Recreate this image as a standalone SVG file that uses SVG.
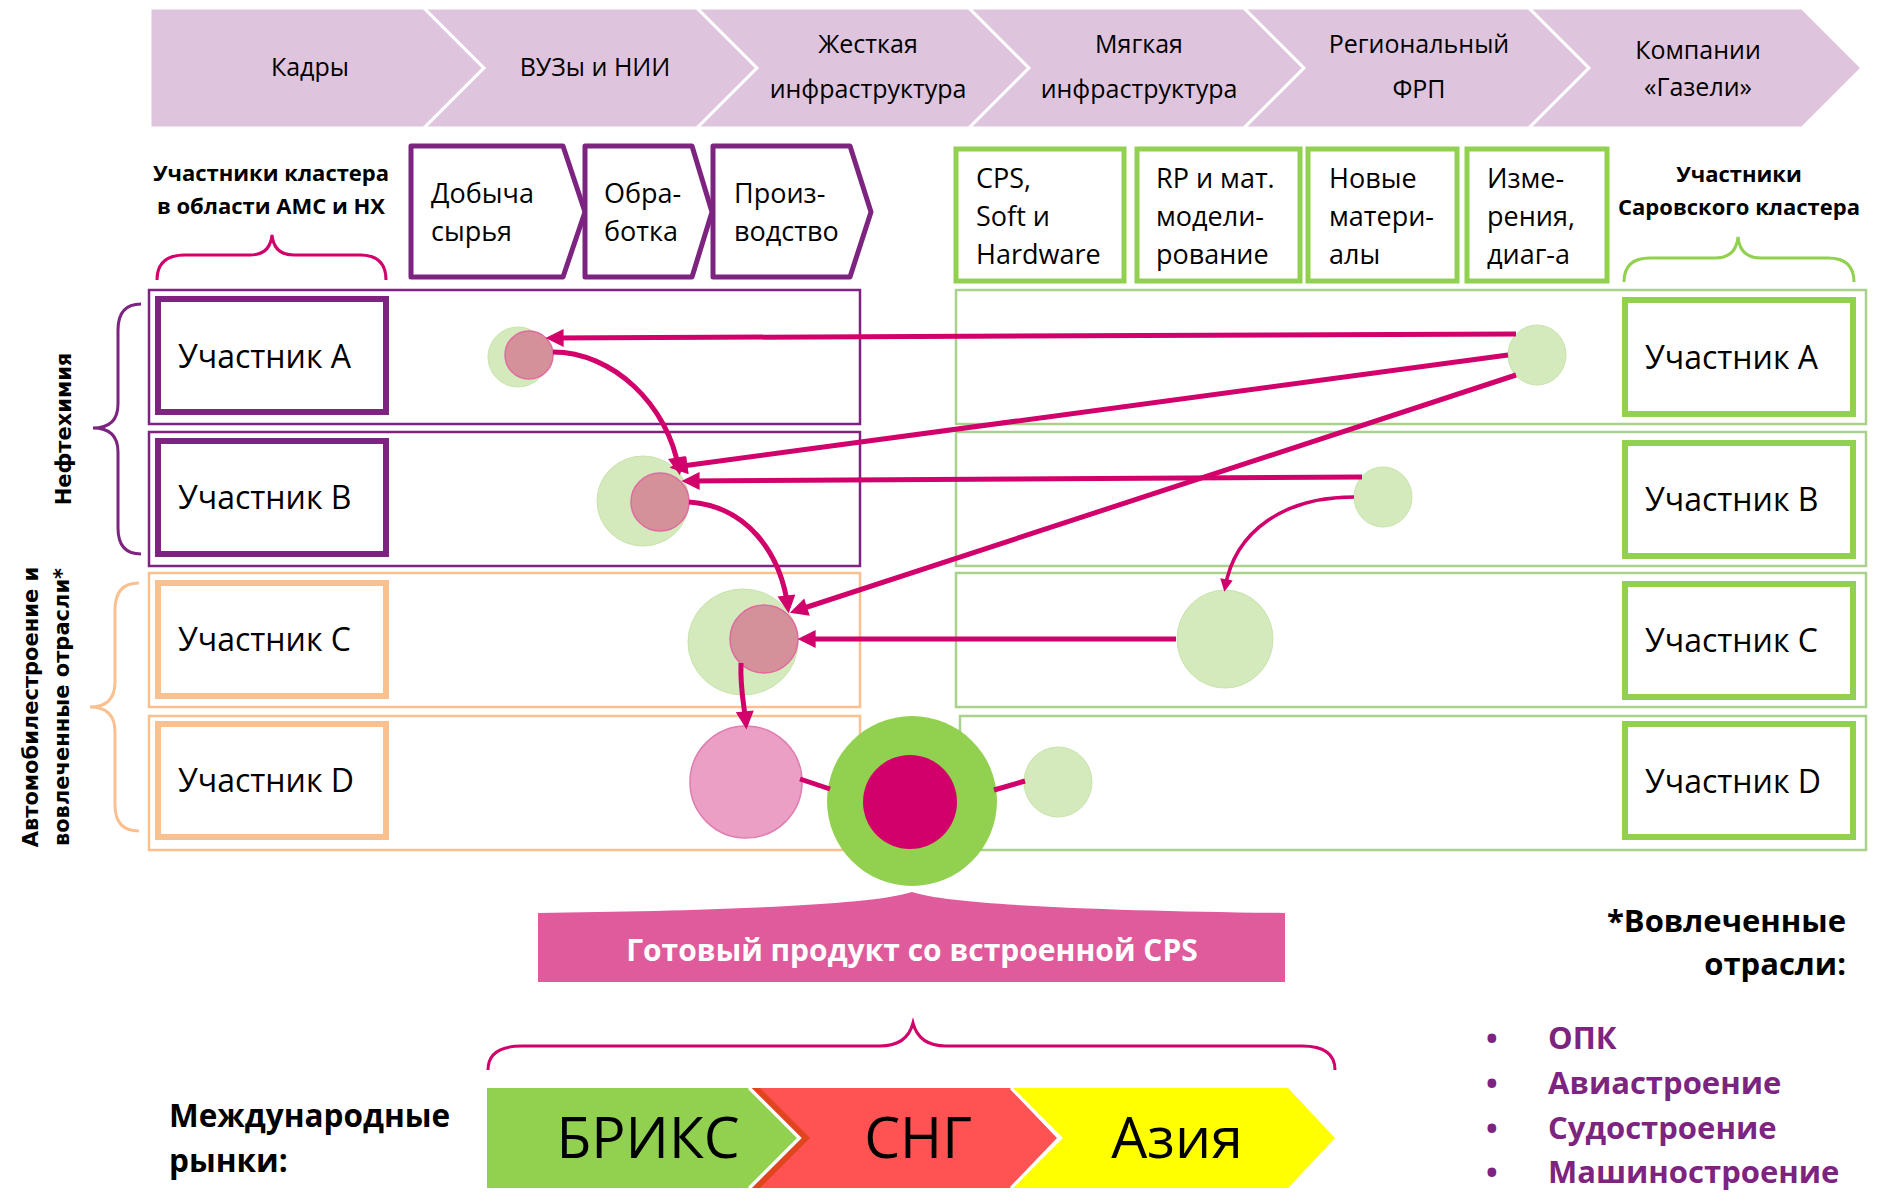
<svg xmlns="http://www.w3.org/2000/svg" width="1878" height="1192" viewBox="0 0 1878 1192">
<defs>
<style>
.t{font-family:"Open Sans","Noto Sans",sans-serif;fill:#000}
.band{fill:#dfc4de;stroke:#fff;stroke-width:3}
.bt{font-size:25px;text-anchor:middle}
.pbox{fill:#fff;stroke:#7d2480;stroke-width:5;stroke-linejoin:round}
.gbox{fill:#fff;stroke:#92d050;stroke-width:5}
.bx{font-size:27px}
.lbl{font-size:22px;font-weight:bold;text-anchor:middle}
.prow{fill:#fff;stroke:#7d2480;stroke-width:2.5}
.orow{fill:#fff;stroke:#fac090;stroke-width:2.5}
.grow{fill:#fff;stroke:#a9d18e;stroke-width:2.5}
.pin{fill:#fff;stroke:#7d2480;stroke-width:6}
.oin{fill:#fff;stroke:#fac090;stroke-width:6}
.gin{fill:#fff;stroke:#92d050;stroke-width:6}
.pt{font-size:32px}
.lg{fill:#d4eabc;stroke:#c8e3ab;stroke-width:1}
.rd{fill:#d4919a;stroke:#e06aa0;stroke-width:1.5}
.con{fill:none;stroke:#d1006a;stroke-width:5}
.brace{fill:none;stroke-width:3}
.side{font-family:"DejaVu Sans",Verdana,sans-serif;font-weight:bold;font-size:21px;text-anchor:middle}
.mk{font-size:57px;text-anchor:middle}
.li{font-size:31px;font-weight:bold;fill:#7d2480}
</style>
<marker id="ah" viewBox="0 0 10 10" refX="7" refY="5" markerWidth="4" markerHeight="3.6" orient="auto" markerUnits="strokeWidth">
<path d="M0,0 L10,5 L0,10 z" fill="#d1006a"/>
</marker>
</defs>
<rect width="1878" height="1192" fill="#fff"/>

<g id="top-band">
<path class="band" d="M150,8 L424,8 L484,68 L424,128 L150,128 Z"/>
<path class="band" d="M424,8 L697,8 L757,68 L697,128 L424,128 L484,68 Z"/>
<path class="band" d="M697,8 L969,8 L1029,68 L969,128 L697,128 L757,68 Z"/>
<path class="band" d="M969,8 L1244,8 L1304,68 L1244,128 L969,128 L1029,68 Z"/>
<path class="band" d="M1244,8 L1529,8 L1589,68 L1529,128 L1244,128 L1304,68 Z"/>
<path class="band" d="M1529,8 L1802,8 L1862,68 L1802,128 L1529,128 L1589,68 Z"/>
<text class="t bt" x="310" y="76">Кадры</text>
<text class="t bt" x="595" y="76">ВУЗы и НИИ</text>
<text class="t bt" x="868" y="53">Жесткая</text>
<text class="t bt" x="868" y="98">инфраструктура</text>
<text class="t bt" x="1139" y="53">Мягкая</text>
<text class="t bt" x="1139" y="98">инфраструктура</text>
<text class="t bt" x="1419" y="53">Региональный</text>
<text class="t bt" x="1419" y="98">ФРП</text>
<text class="t bt" x="1698" y="59">Компании</text>
<text class="t bt" x="1698" y="96">«Газели»</text>
</g>

<g id="left-header">
<text class="t lbl" x="271" y="181">Участники кластера</text>
<text class="t lbl" x="271" y="214">в области АМС и НХ</text>
<path class="brace" stroke="#d1006a" d="M157,280 Q157,255 185,255 L250,255 Q270,255 272,235 Q274,255 294,255 L360,255 Q386,255 386,280"/>
</g>

<g id="stage-dobycha">
<path class="pbox" d="M411,146 L563,146 L585,212 L563,277 L411,277 Z"/>
<text class="t bx" x="431" y="203">Добыча</text>
<text class="t bx" x="431" y="241">сырья</text>
</g>
<g id="stage-obrabotka">
<path class="pbox" d="M585,146 L692,146 L712,212 L692,277 L585,277 Z"/>
<text class="t bx" x="604" y="203">Обра-</text>
<text class="t bx" x="604" y="241">ботка</text>
</g>
<g id="stage-proizvodstvo">
<path class="pbox" d="M713,146 L850,146 L871,212 L850,277 L713,277 Z"/>
<text class="t bx" x="734" y="203">Произ-</text>
<text class="t bx" x="734" y="241">водство</text>
</g>

<g id="comp-cps">
<rect class="gbox" x="956" y="149" width="168" height="132"/>
<text class="t bx" x="976" y="188">CPS,</text>
<text class="t bx" x="976" y="226">Soft и</text>
<text class="t bx" x="976" y="264">Hardware</text>
</g>
<g id="comp-rp">
<rect class="gbox" x="1137" y="149" width="163" height="132"/>
<text class="t bx" x="1156" y="188">RP и мат.</text>
<text class="t bx" x="1156" y="226">модели-</text>
<text class="t bx" x="1156" y="264">рование</text>
</g>
<g id="comp-materials">
<rect class="gbox" x="1308" y="149" width="149" height="132"/>
<text class="t bx" x="1329" y="188">Новые</text>
<text class="t bx" x="1329" y="226">матери-</text>
<text class="t bx" x="1329" y="264">алы</text>
</g>
<g id="comp-measure">
<rect class="gbox" x="1467" y="149" width="140" height="132"/>
<text class="t bx" x="1487" y="188">Изме-</text>
<text class="t bx" x="1487" y="226">рения,</text>
<text class="t bx" x="1487" y="264">диаг-а</text>
</g>

<g id="right-header">
<text class="t lbl" x="1739" y="182">Участники</text>
<text class="t lbl" x="1739" y="215">Саровского кластера</text>
<path class="brace" stroke="#92d050" d="M1624,282 Q1624,258 1650,258 L1715,258 Q1736,258 1738,237 Q1740,258 1761,258 L1828,258 Q1854,258 1854,282"/>
</g>

<g id="group-neftekhimiya">
<path class="brace" stroke="#7d2480" d="M141,304 Q118,304 118,330 L118,404 Q118,428 93,428 Q118,428 118,452 L118,528 Q118,554 141,554"/>
<text class="t side" transform="translate(71,429) rotate(-90)">Нефтехимия</text>
</g>
<g id="group-auto">
<path class="brace" stroke="#fac090" d="M139,583 Q115,583 115,610 L115,682 Q115,707 90,707 Q115,707 115,732 L115,805 Q115,831 139,831"/>
<text class="t side" transform="translate(38,707) rotate(-90)">Автомобилестроение и</text>
<text class="t side" transform="translate(69,707) rotate(-90)">вовлеченные отрасли*</text>
</g>

<g id="left-row-a">
<rect class="prow" x="149" y="290" width="711" height="134"/>
<rect class="pin" x="158" y="299" width="228" height="113"/>
<text class="t pt" x="178" y="368">Участник A</text>
</g>
<g id="left-row-b">
<rect class="prow" x="149" y="432" width="711" height="134"/>
<rect class="pin" x="158" y="441" width="228" height="113"/>
<text class="t pt" x="178" y="509">Участник B</text>
</g>
<g id="left-row-c">
<rect class="orow" x="149" y="573" width="711" height="134"/>
<rect class="oin" x="158" y="583" width="228" height="113"/>
<text class="t pt" x="178" y="651">Участник C</text>
</g>
<g id="left-row-d">
<rect class="orow" x="149" y="716" width="711" height="134"/>
<rect class="oin" x="158" y="724" width="228" height="113"/>
<text class="t pt" x="178" y="792">Участник D</text>
</g>

<g id="right-row-a">
<rect class="grow" x="956" y="290" width="910" height="134"/>
<rect class="gin" x="1625" y="300" width="228" height="114"/>
<text class="t pt" x="1645" y="369">Участник A</text>
</g>
<g id="right-row-b">
<rect class="grow" x="956" y="432" width="910" height="134"/>
<rect class="gin" x="1625" y="443" width="228" height="113"/>
<text class="t pt" x="1645" y="511">Участник B</text>
</g>
<g id="right-row-c">
<rect class="grow" x="956" y="573" width="910" height="134"/>
<rect class="gin" x="1625" y="584" width="228" height="113"/>
<text class="t pt" x="1645" y="652">Участник C</text>
</g>
<g id="right-row-d">
<rect class="grow" x="960" y="716" width="906" height="134"/>
<rect class="gin" x="1625" y="724" width="228" height="113"/>
<text class="t pt" x="1645" y="793">Участник D</text>
</g>

<g id="node-a-left">
<ellipse class="lg" cx="518" cy="357" rx="30" ry="30"/>
<ellipse class="rd" cx="529" cy="355" rx="24" ry="24"/>
</g>
<g id="node-b-left">
<ellipse class="lg" cx="643" cy="501" rx="46" ry="45"/>
<ellipse class="rd" cx="660" cy="502" rx="29" ry="29"/>
</g>
<g id="node-c-left">
<ellipse class="lg" cx="743" cy="642" rx="55" ry="53"/>
<ellipse class="rd" cx="764" cy="639" rx="34" ry="34"/>
</g>
<g id="node-d-left">
<ellipse cx="746" cy="782" rx="56" ry="56" fill="#eb9fc4" stroke="#e07cb0" stroke-width="1.5"/>
</g>
<g id="node-product">
<circle cx="912" cy="801" r="85" fill="#92d050"/>
<circle cx="910" cy="802" r="47" fill="#d1006a"/>
</g>
<g id="node-a-right">
<ellipse class="lg" cx="1537" cy="355" rx="29" ry="30"/>
</g>
<g id="node-b-right">
<ellipse class="lg" cx="1383" cy="497" rx="29" ry="30"/>
</g>
<g id="node-c-right">
<ellipse class="lg" cx="1225" cy="639" rx="48" ry="49"/>
</g>
<g id="node-d-right">
<ellipse class="lg" cx="1058" cy="782" rx="34" ry="35"/>
</g>

<g id="connectors">
<path class="con" d="M1516,334 L551,338" marker-end="url(#ah)"/>
<path class="con" d="M1508,355 L675,467" marker-end="url(#ah)"/>
<path class="con" d="M1516,375 L795,611" marker-end="url(#ah)"/>
<path class="con" d="M1362,477 L687,481" marker-end="url(#ah)"/>
<path class="con" d="M1176,639 L803,639" marker-end="url(#ah)"/>
<path class="con" d="M553,352 C612,352 668,404 679,470" marker-end="url(#ah)"/>
<path class="con" d="M689,502 C746,506 781,552 788,608" marker-end="url(#ah)"/>
<path class="con" d="M741,663 C740,690 744,703 746,724" marker-end="url(#ah)"/>
<path class="con" style="stroke-width:3.5" d="M1354,497 C1285,497 1235,530 1225,588" marker-end="url(#ah)"/>
<path class="con" d="M800,779 L830,789"/>
<path class="con" d="M994,790 L1025,781"/>
</g>

<g id="product-label">
<path d="M538,913 C700,911 870,906 912,892 C954,906 1124,911 1285,913 L1285,982 L538,982 Z" fill="#e05b9b"/>
<text class="t" x="912" y="961" font-size="30" font-weight="bold" text-anchor="middle" style="fill:#fff">Готовый продукт со встроенной CPS</text>
</g>

<g id="markets">
<path class="brace" stroke="#d1006a" d="M488,1070 Q488,1046 522,1046 L880,1046 Q907,1046 913,1023 Q919,1046 946,1046 L1302,1046 Q1335,1046 1335,1070"/>
<text class="t" x="169" y="1127" font-size="31.5" font-weight="bold">Международные</text>
<text class="t" x="169" y="1172" font-size="31.5" font-weight="bold">рынки:</text>
<path d="M487,1088 L749,1088 L799,1138 L749,1188 L487,1188 Z" fill="#92d050"/>
<path d="M752,1088 L1011,1088 L1059,1138 L1011,1188 L752,1188 L802,1138 Z" fill="#ff5353"/>
<path d="M752,1088 L760,1088 L810,1138 L760,1188 L752,1188 L802,1138 Z" fill="#e0451e"/>
<path d="M1013,1088 L1288,1088 L1335,1138 L1288,1188 L1013,1188 L1063,1138 Z" fill="#ffff00"/>
<path d="M749,1088 L799,1138 L749,1188 M1011,1088 L1059,1138 L1011,1188" fill="none" stroke="#fff" stroke-width="3"/>
<text class="t mk" x="648" y="1158">БРИКС</text>
<text class="t mk" x="918" y="1158">СНГ</text>
<text class="t mk" x="1177" y="1158">Азия</text>
</g>

<g id="legend">
<text class="t" x="1846" y="932" font-size="31" font-weight="bold" text-anchor="end">*Вовлеченные</text>
<text class="t" x="1846" y="975" font-size="31" font-weight="bold" text-anchor="end">отрасли:</text>
<text class="t li" x="1486" y="1049">•</text>
<text class="t li" x="1548" y="1049">ОПК</text>
<text class="t li" x="1486" y="1094">•</text>
<text class="t li" x="1548" y="1094">Авиастроение</text>
<text class="t li" x="1486" y="1139">•</text>
<text class="t li" x="1548" y="1139">Судостроение</text>
<text class="t li" x="1486" y="1183">•</text>
<text class="t li" x="1548" y="1183">Машиностроение</text>
</g>
</svg>
